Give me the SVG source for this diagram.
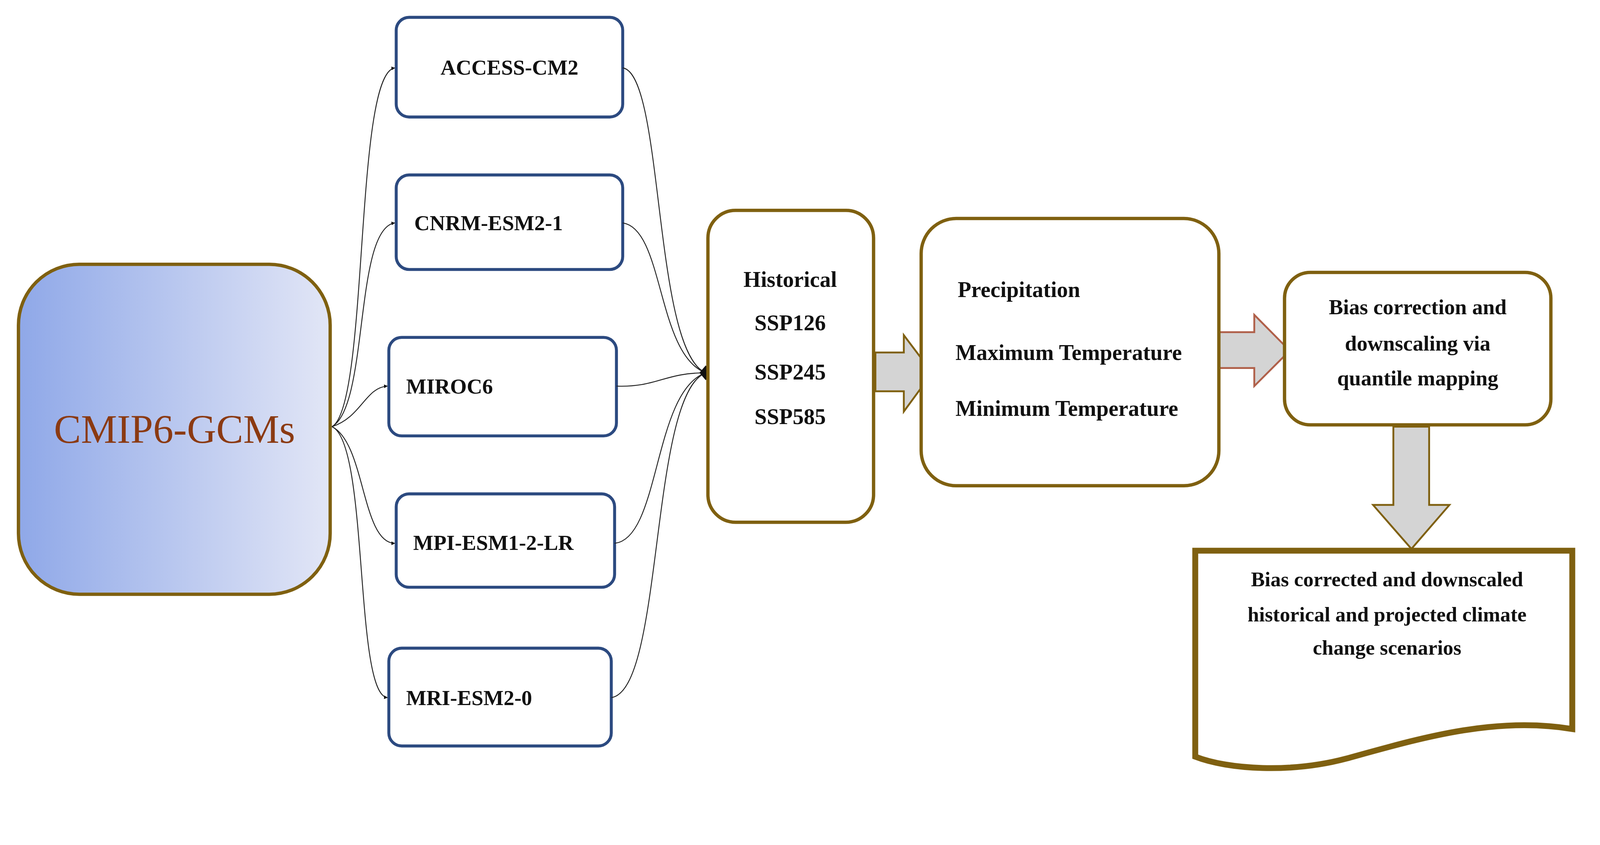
<svg xmlns="http://www.w3.org/2000/svg" width="4317" height="2162" viewBox="0 0 4317 2162">
<style>
.gcm{fill:#fff;stroke:#2c4a80;stroke-width:8}
.gold{fill:#fff;stroke:#7f6010;stroke-width:9}
.t{font-family:"Liberation Serif",serif;font-weight:bold;fill:#111}
.c{fill:none;stroke:#222;stroke-width:2.5}
.blk{fill:#d4d4d4;stroke-width:5}
</style>
<defs>
<linearGradient id="g" x1="0" x2="1" y1="0" y2="0"><stop offset="0" stop-color="#8fa8e8"/><stop offset="1" stop-color="#e2e6f6"/></linearGradient>
<marker id="a" markerWidth="10" markerHeight="10" refX="9" refY="5" orient="auto" markerUnits="userSpaceOnUse" viewBox="0 0 10 10"><path d="M0,0 L10,5 L0,10 Z" fill="#111"/></marker>
</defs>
<rect width="4317" height="2162" fill="#fff"/>
<g transform="scale(0.9444)">
<g id="cmip6">
<rect x="50" y="716" width="845" height="894" rx="165" fill="url(#g)" stroke="#7f6010" stroke-width="9"/>
<text x="473" y="1200" font-family="Liberation Serif,serif" font-size="110" fill="#8b3a12" text-anchor="middle">CMIP6-GCMs</text>
</g>
<g id="access"><rect class="gcm" x="1074" y="47" width="614" height="270" rx="35"/><text class="t" x="1381" y="202" font-size="58" text-anchor="middle">ACCESS-CM2</text></g>
<g id="cnrm"><rect class="gcm" x="1074" y="474" width="614" height="256" rx="35"/><text class="t" x="1123" y="624" font-size="58">CNRM-ESM2-1</text></g>
<g id="miroc"><rect class="gcm" x="1054" y="914" width="617" height="267" rx="35"/><text class="t" x="1101" y="1066" font-size="58">MIROC6</text></g>
<g id="mpi"><rect class="gcm" x="1074" y="1338" width="592" height="253" rx="35"/><text class="t" x="1120" y="1490" font-size="58">MPI-ESM1-2-LR</text></g>
<g id="mri"><rect class="gcm" x="1054" y="1756" width="603" height="265" rx="35"/><text class="t" x="1101" y="1910" font-size="58">MRI-ESM2-0</text></g>
<g id="connectors">
<path class="c" marker-end="url(#a)" d="M900,1156 C1000,1100 960,200 1070,184"/>
<path class="c" marker-end="url(#a)" d="M900,1156 C1000,1100 960,620 1070,604"/>
<path class="c" marker-end="url(#a)" d="M900,1156 C980,1130 990,1050 1050,1046"/>
<path class="c" marker-end="url(#a)" d="M900,1156 C990,1200 980,1470 1070,1472"/>
<path class="c" marker-end="url(#a)" d="M900,1156 C1000,1200 960,1880 1050,1890"/>
<path class="c" d="M1688,184 C1800,200 1770,950 1913,1010"/>
<path class="c" d="M1688,604 C1800,620 1780,960 1913,1010"/>
<path class="c" d="M1671,1046 C1780,1050 1800,1010 1913,1010"/>
<path class="c" d="M1666,1472 C1790,1460 1770,1060 1913,1010"/>
<path class="c" d="M1657,1890 C1800,1870 1760,1070 1913,1010"/>
<path d="M1913,990 L1930,1010 L1913,1030 L1896,1010 Z" fill="#111"/>
<path class="blk" stroke="#7f6010" d="M2373,955 H2450 V908 L2527,1010 L2450,1115 V1060 H2373 Z"/>
<path class="blk" stroke="#b0604a" d="M3304,900 H3400 V853 L3496,950 L3400,1046 V997 H3304 Z"/>
<path class="blk" stroke="#7f6010" d="M3777,1156 H3874 V1368 H3929 L3826,1487 L3722,1368 H3777 Z"/>
</g>
<g id="scenarios"><rect class="gold" x="1919" y="570" width="449" height="845" rx="75"/>
<text class="t" font-size="60" text-anchor="middle"><tspan x="2142" y="777">Historical</tspan><tspan x="2142" y="895">SSP126</tspan><tspan x="2142" y="1028">SSP245</tspan><tspan x="2142" y="1149">SSP585</tspan></text></g>
<g id="variables"><rect class="gold" x="2497" y="592" width="807" height="724" rx="95"/>
<text class="t" font-size="60"><tspan x="2596" y="805">Precipitation</tspan><tspan x="2590" y="975">Maximum Temperature</tspan><tspan x="2590" y="1127">Minimum Temperature</tspan></text></g>
<g id="bias"><rect class="gold" x="3482" y="738" width="722" height="413" rx="70"/>
<text class="t" font-size="58" text-anchor="middle"><tspan x="3843" y="851">Bias correction and</tspan><tspan x="3843" y="950">downscaling via</tspan><tspan x="3843" y="1044">quantile mapping</tspan></text></g>
<g id="output"><path d="M3240,1492 H4262 V1975 C4050,1940 3850,2000 3650,2055 C3500,2095 3330,2085 3240,2050 Z" fill="#fff" stroke="#7f6010" stroke-width="16"/>
<text class="t" font-size="56" text-anchor="middle"><tspan x="3760" y="1588">Bias corrected and downscaled</tspan><tspan x="3760" y="1684">historical and projected climate</tspan><tspan x="3760" y="1774">change scenarios</tspan></text></g>
</g>
</svg>
